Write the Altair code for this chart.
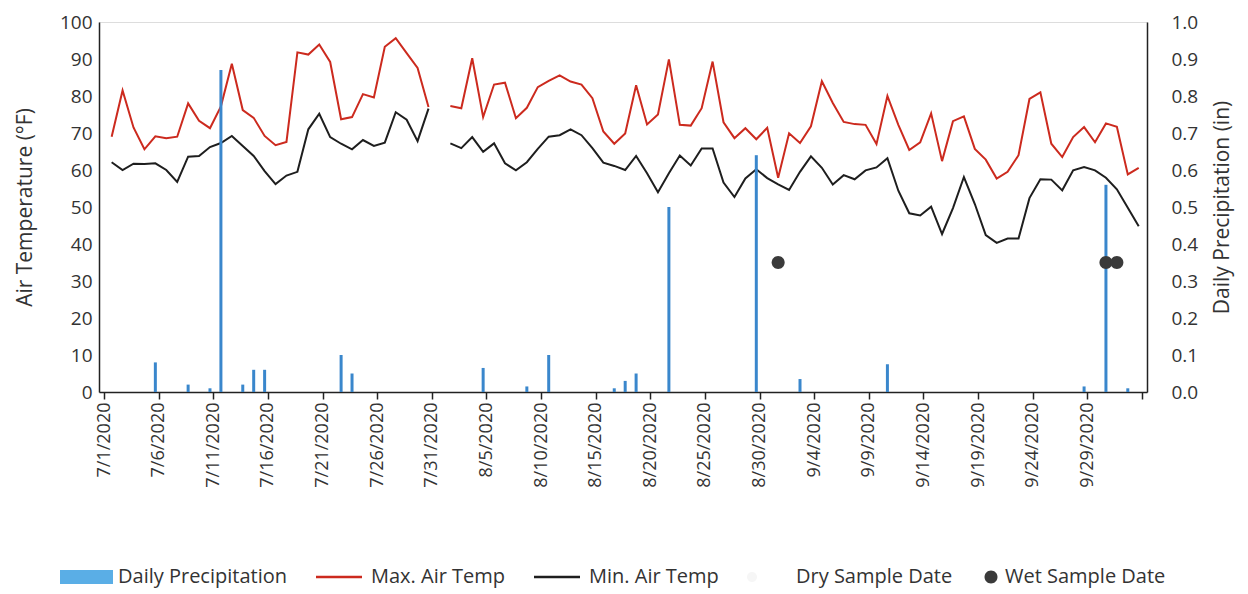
import altair as alt
import pandas as pd

START = "2020-07-01"
N_DAYS = 95

# Daily maximum / minimum air temperature (deg F), 7/1/2020 .. 10/3/2020 (None = no record)
MAX_TEMP = [69.0, 81.5, 71.5, 65.6, 69.1, 68.6, 69.0, 78.0, 73.3, 71.3,
            77.2, 88.7, 76.2, 74.1, 69.2, 66.7, 67.6, 91.8, 91.2, 93.9,
            89.2, 73.7, 74.3, 80.5, 79.6, 93.3, 95.6, 91.6, 87.6, 77.0,
            None, 77.3, 76.7, 90.2, 74.3, 83.1, 83.6, 74.0, 76.8, 82.4,
            84.1, 85.6, 83.9, 83.1, 79.4, 70.4, 67.1, 69.9, 82.9, 72.3,
            75.0, 89.9, 72.2, 72.0, 76.7, 89.3, 72.9, 68.6, 71.3, 68.3,
            71.4, 57.9, 69.9, 67.3, 71.8, 84.0, 78.1, 73.0, 72.4, 72.2,
            67.0, 80.0, 72.2, 65.4, 67.5, 75.3, 62.4, 73.2, 74.5, 65.7,
            62.8, 57.7, 59.5, 64.0, 79.2, 81.0, 67.1, 63.5, 68.9, 71.6,
            67.5, 72.6, 71.7, 58.8, 60.6]
MIN_TEMP = [62.1, 60.0, 61.7, 61.6, 61.8, 60.0, 56.8, 63.6, 63.8, 66.2,
            67.3, 69.2, 66.5, 63.8, 59.7, 56.2, 58.5, 59.5, 71.0, 75.2,
            68.9, 67.1, 65.6, 68.1, 66.5, 67.4, 75.6, 73.6, 67.8, 76.6,
            None, 67.2, 65.9, 68.9, 64.9, 67.2, 61.8, 59.9, 62.1, 65.7,
            69.0, 69.4, 71.0, 69.4, 65.9, 62.0, 61.1, 60.0, 63.8, 59.1,
            54.0, 59.1, 63.9, 61.2, 65.8, 65.8, 56.6, 52.7, 57.7, 60.2,
            57.8, 56.1, 54.6, 59.5, 63.7, 60.6, 56.1, 58.6, 57.5, 59.9,
            60.7, 63.2, 54.4, 48.3, 47.7, 50.1, 42.7, 49.7, 58.1, 50.8,
            42.4, 40.3, 41.5, 41.5, 52.4, 57.5, 57.4, 54.5, 59.9, 60.8,
            59.9, 57.9, 54.8, 49.8, 44.8]

# Daily precipitation (in)
PRECIP_DATES = ["2020-07-05", "2020-07-08", "2020-07-10", "2020-07-11", "2020-07-13",
                "2020-07-14", "2020-07-15", "2020-07-22", "2020-07-23", "2020-08-04",
                "2020-08-08", "2020-08-10", "2020-08-16", "2020-08-17", "2020-08-18",
                "2020-08-21", "2020-08-29", "2020-09-02", "2020-09-10", "2020-09-28",
                "2020-09-30", "2020-10-02"]
PRECIP_IN = [0.08, 0.02, 0.01, 0.87, 0.02,
             0.06, 0.06, 0.10, 0.05, 0.065,
             0.015, 0.10, 0.01, 0.03, 0.05,
             0.50, 0.64, 0.035, 0.075, 0.015,
             0.56, 0.01]

# Wet sample dates (plotted on the precipitation axis)
WET_DATES = ["2020-08-31", "2020-09-30", "2020-10-01"]
WET_LEVEL = [0.35, 0.35, 0.35]

SERIES = ["Daily Precipitation", "Max. Air Temp", "Min. Air Temp",
          "Dry Sample Date", "Wet Sample Date"]
SERIES_COLORS = ["#5aaee6", "#cc2a1e", "#1e1e1e", "#f6f6f6", "#3a3a3a"]
SERIES_SHAPES = [
    "M-4.4,-0.7H0.9V0.7H-4.4Z",
    "M-4.1,-0.12H0.5V0.12H-4.1Z",
    "M-4.1,-0.12H0.5V0.12H-4.1Z",
    "M-3.5,0A0.5,0.5,0,1,1,-2.5,0A0.5,0.5,0,1,1,-3.5,0Z",
    "M-0.65,0A0.65,0.65,0,1,1,0.65,0A0.65,0.65,0,1,1,-0.65,0Z",
]

TICK_DATES = pd.date_range(START, periods=20, freq="5D")
LEFT_TICKS = list(range(0, 101, 10))
RIGHT_TICKS = [round(0.1 * k, 1) for k in range(11)]

FONT = "Open Sans"
TXT = "#333333"
DAY_POS = "T16:48:00"   # where within each day's slot the values are drawn

# ---------- tables ----------
days = pd.date_range(START, periods=N_DAYS, freq="D")
rows = []
for name, vals in (("Max. Air Temp", MAX_TEMP), ("Min. Air Temp", MIN_TEMP)):
    seg = 0
    for d, v in zip(days, vals):
        if v is None:
            seg += 1
            continue
        rows.append({"date": d.strftime("%Y-%m-%d") + DAY_POS, "series": name,
                     "temp": v, "segment": seg})
temp_df = pd.DataFrame(rows)

precip_df = pd.DataFrame({"date": [d + DAY_POS for d in PRECIP_DATES],
                          "precip": PRECIP_IN})
wet_df = pd.DataFrame({"date": [d + DAY_POS for d in WET_DATES],
                       "level": WET_LEVEL,
                       "series": ["Wet Sample Date"] * len(WET_DATES)})

# ---------- encodings ----------
x_enc = alt.X(
    "date:T",
    scale=alt.Scale(domain=[alt.DateTime(year=2020, month=7, date=1),
                            alt.DateTime(year=2020, month=10, date=4)]),
    axis=alt.Axis(
        values=[alt.DateTime(year=d.year, month=d.month, date=d.day) for d in TICK_DATES],
        labelExpr="datum.value < datetime(2020, 9, 3) ? timeFormat(datum.value, '%-m/%-d/%Y') : ''",
        labelAngle=270, labelFontSize=18, labelPadding=3, labelFlush=False,
        labelOverlap=False, tickSize=7, tickColor="#222", tickWidth=1.5,
        domainColor="#222", domainWidth=1.5, grid=False, title=None,
        labelColor=TXT, labelFont=FONT,
    ),
)

left_axis = alt.Axis(values=LEFT_TICKS, title="Air Temperature (°F)", orient="left",
                     ticks=False, labelPadding=7, labelFontSize=19, labelFont=FONT,
                     labelColor=TXT, titleFontSize=21, titleFont=FONT,
                     titleFontWeight="normal", titleColor=TXT, titlePadding=24,
                     grid=False, domainColor="#222", domainWidth=1.5)
right_axis = alt.Axis(values=RIGHT_TICKS, format=".1f", title="Daily Precipitation (in)",
                      orient="right", ticks=False, labelPadding=24, labelFontSize=19,
                      labelFont=FONT, labelColor=TXT, titleFontSize=21, titleFont=FONT,
                      titleFontWeight="normal", titleColor=TXT, titlePadding=14,
                      titleAngle=270, titleBaseline="top", grid=False,
                      domainColor="#222", domainWidth=1.5)

temp_scale = alt.Scale(domain=[0, 100], nice=False)
precip_scale = alt.Scale(domain=[0, 1], nice=False)

legend = alt.Legend(title=None, orient="none", legendX=-5, legendY=545,
                    direction="horizontal", columns=5, symbolSize=400,
                    symbolStrokeWidth=0, labelFontSize=20, labelFont=FONT,
                    labelColor=TXT, labelOffset=4, columnPadding=28, padding=0,
                    labelLimit=0)

base_temp = alt.Chart(temp_df)
max_line = base_temp.transform_filter(alt.datum.series == "Max. Air Temp").mark_line(
    color="#cc2a1e", strokeWidth=2).encode(
    x=x_enc, y=alt.Y("temp:Q", scale=temp_scale, axis=left_axis), detail="segment:N")
min_line = base_temp.transform_filter(alt.datum.series == "Min. Air Temp").mark_line(
    color="#1e1e1e", strokeWidth=2).encode(
    x=x_enc, y=alt.Y("temp:Q", scale=temp_scale, axis=left_axis), detail="segment:N")

bars = alt.Chart(precip_df).mark_bar(size=3, color="#3a87cc").encode(
    x=x_enc, y=alt.Y("precip:Q", scale=precip_scale, axis=right_axis))

points = alt.Chart(wet_df).mark_point(filled=True, opacity=1, size=400).encode(
    x=x_enc,
    y=alt.Y("level:Q", scale=precip_scale, axis=right_axis),
    color=alt.Color("series:N", scale=alt.Scale(domain=SERIES, range=SERIES_COLORS),
                    legend=legend),
    shape=alt.Shape("series:N", scale=alt.Scale(domain=SERIES, range=SERIES_SHAPES),
                    legend=legend),
)

chart = alt.layer(
    alt.layer(max_line, min_line),
    alt.layer(bars, points),
).resolve_scale(y="independent").properties(
    width=1048, height=370,
    padding={"left": 6, "top": 5, "right": 4, "bottom": 6},
).configure_view(stroke="#222", strokeWidth=1.5).configure(font=FONT)

chart.save("out.html", embed_options={"renderer": "svg", "actions": False})
